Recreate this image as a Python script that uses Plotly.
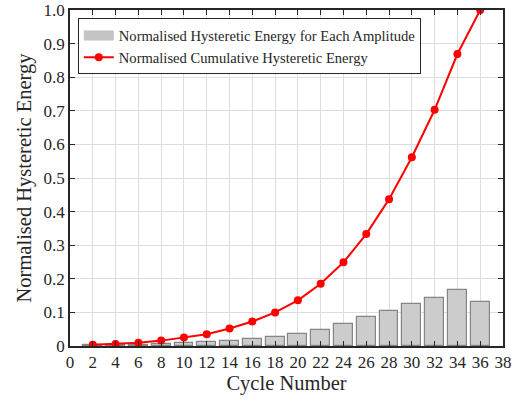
import plotly.graph_objects as go

cycles = [2, 4, 6, 8, 10, 12, 14, 16, 18, 20, 22, 24, 26, 28, 30, 32, 34, 36]
energy_each = [0.004, 0.003, 0.004, 0.006, 0.009, 0.012, 0.016, 0.021, 0.027, 0.037,
               0.049, 0.065, 0.085, 0.104, 0.125, 0.143, 0.166, 0.132]
energy_cum = [0.004, 0.006, 0.010, 0.016, 0.025, 0.035, 0.052, 0.073, 0.100, 0.136,
              0.185, 0.249, 0.333, 0.437, 0.562, 0.703, 0.869, 1.0]
x_ticks = list(range(0, 39, 2))
y_ticks = [0, 0.1, 0.2, 0.3, 0.4, 0.5, 0.6, 0.7, 0.8, 0.9, 1.0]
y_labels = ["0", "0.1", "0.2", "0.3", "0.4", "0.5", "0.6", "0.7", "0.8", "0.9", "1.0"]

font_family = "Liberation Serif, Times New Roman, serif"
bar_name = "Normalised Hysteretic Energy for Each Amplitude"
line_name = "Normalised Cumulative Hysteretic Energy"

fig = go.Figure()
fig.add_trace(go.Bar(
    x=cycles, y=energy_each, width=1.65,
    marker=dict(color="#cccccc", line=dict(color="#858585", width=1.2)),
    name=bar_name, showlegend=False,
))
# legend entry for the bars (wide grey patch, as in the reference)
fig.add_trace(go.Scatter(
    x=[None], y=[None], mode="lines",
    line=dict(color="#c4c4c4", width=11),
    name=bar_name, showlegend=True,
))
fig.add_trace(go.Scatter(
    x=cycles, y=energy_cum, mode="lines+markers",
    line=dict(color="#ff0000", width=2),
    marker=dict(color="#ff0000", size=8, symbol="circle"),
    name=line_name,
))

axis_common = dict(
    showline=True, linecolor="#262626", linewidth=1.5, mirror="ticks",
    ticks="inside", ticklen=5, tickwidth=1.2, tickcolor="#262626",
    showgrid=True, gridcolor="#dddddd", gridwidth=1,
    zeroline=False, automargin=False,
    tickfont=dict(family=font_family, size=17, color="#262626"),
)

fig.update_layout(
    width=516, height=404,
    margin=dict(l=70, r=13, t=10, b=58),
    paper_bgcolor="white", plot_bgcolor="white",
    font=dict(family=font_family, color="#262626"),
    showlegend=True,
    legend=dict(
        x=0.018, y=0.975, xanchor="left", yanchor="top",
        bgcolor="white", bordercolor="#262626", borderwidth=1,
        font=dict(family=font_family, size=14.6, color="#262626"),
        tracegroupgap=0, itemwidth=30,
    ),
    xaxis=dict(
        range=[0, 38], tickvals=x_ticks,
        title=dict(text="Cycle Number", font=dict(family=font_family, size=20.5), standoff=3),
        **axis_common,
    ),
    yaxis=dict(
        range=[0, 1.0], tickvals=y_ticks, ticktext=y_labels,
        title=dict(text="Normalised Hysteretic Energy", font=dict(family=font_family, size=20.5), standoff=6),
        **axis_common,
    ),
    bargap=0,
)

fig.write_html("out.html", config={"displayModeBar": False},
               post_script="document.body.style.margin='0';")
